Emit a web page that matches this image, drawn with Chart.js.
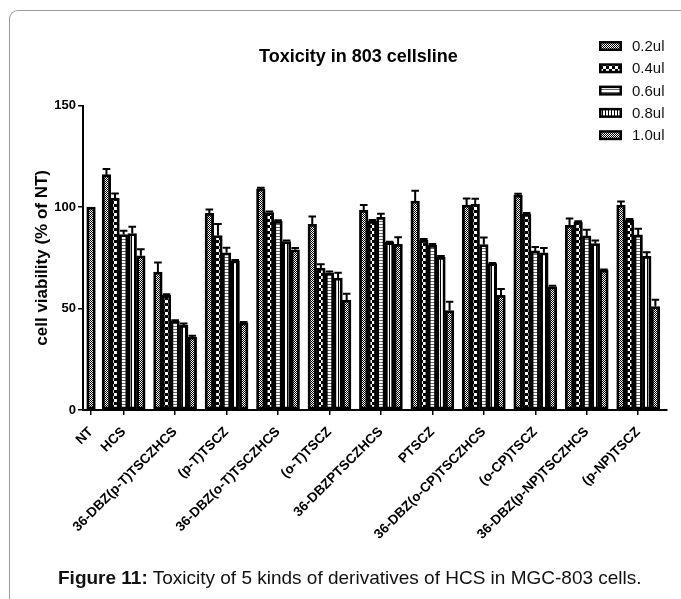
<!DOCTYPE html>
<html>
<head>
<meta charset="utf-8">
<script src="https://cdn.jsdelivr.net/npm/chart.js@4.4.0/dist/chart.umd.min.js"></script>
<style>
  html, body { margin: 0; padding: 0; background: #fff; }
  body { width: 681px; height: 599px; position: relative; overflow: hidden; font-family: "Liberation Sans", Arial, sans-serif; }
  #frame { position: absolute; left: 9px; top: 10px; width: 720px; height: 640px; border-left: 1.5px solid #9a9a9a; border-top: 1.5px solid #9a9a9a; border-top-left-radius: 9px; }
  #title { position: absolute; left: 0; width: 717px; top: 46px; text-align: center; font-size: 18px; font-weight: bold; color: #000; }
  #caption { position: absolute; left: 58px; top: 567px; font-size: 19px; color: #111; white-space: nowrap; }
  canvas { position: absolute; left: 0; top: 0; }
</style>
</head>
<body>
<div id="frame"></div>
<canvas id="chart" width="681" height="599"></canvas>
<div id="title">Toxicity in 803 cellsline</div>
<div id="caption"><b>Figure 11:</b> Toxicity of 5 kinds of derivatives of HCS in MGC-803 cells.</div>
<script>
const categories = ['NT', 'HCS', '36-DBZ(p-T)TSCZHCS', '(p-T)TSCZ', '36-DBZ(o-T)TSCZHCS', '(o-T)TSCZ',
  '36-DBZPTSCZHCS', 'PTSCZ', '36-DBZ(o-CP)TSCZHCS', '(o-CP)TSCZ', '36-DBZ(p-NP)TSCZHCS', '(p-NP)TSCZ'];
const doseLabels = ['0.2ul', '0.4ul', '0.6ul', '0.8ul', '1.0ul'];

// mean values, % of NT
const dose02 = [100, 116, 68, 97, 109, 91.5, 98.5, 103, 101, 106, 91, 101];
const dose04 = [null, 104.5, 56.5, 86, 97.3, 70, 93, 83.7, 101.5, 96.5, 92.5, 93.5];
const dose06 = [null, 86.5, 43.8, 77.5, 93, 67.6, 95, 81.2, 81.6, 78.4, 85.8, 86.3];
const dose08 = [null, 87, 41.8, 73.5, 83, 65, 82.6, 75.3, 72.2, 77.5, 82, 75.8];
const dose10 = [null, 76, 36, 43, 79, 54.2, 81.7, 49, 56.5, 60.7, 69, 51];

// error bars (upper only)
const err02 = [0, 2.8, 4.7, 1.8, 0.5, 3.9, 2.6, 5.1, 3.3, 0.6, 3.4, 1.8];
const err04 = [0, 2.2, 0.5, 5.7, 0.5, 1.9, 0.6, 0.6, 2.6, 0.6, 0.6, 0.6];
const err06 = [0, 1.8, 0.5, 2.5, 0.5, 0.7, 1.8, 0.6, 3.4, 2, 3.1, 3];
const err08 = [0, 3.3, 0.8, 0.4, 0.6, 2.6, 0.3, 0.6, 0.3, 2.3, 1.5, 2];
const err10 = [0, 3.3, 0.6, 0.4, 0.8, 3.1, 3.4, 4.4, 3.1, 0.6, 0.3, 3.4];

const yTicks = [0, 50, 100, 150];

// NT sits closer to HCS than the other groups (single bar)
const xPos = categories.map((c, i) => i === 0 ? 0.366 : i);

const FONT = '"Liberation Sans", Arial, sans-serif';

function makePattern(kind) {
  const c = document.createElement('canvas');
  const g = c.getContext('2d');
  if (kind === 0) { // fine checker
    c.width = 2; c.height = 2;
    g.fillStyle = '#fff'; g.fillRect(0, 0, 2, 2);
    g.fillStyle = '#000'; g.fillRect(0, 0, 1, 1); g.fillRect(1, 1, 1, 1);
  } else if (kind === 1) { // coarse checker
    c.width = 6; c.height = 6;
    g.fillStyle = '#fff'; g.fillRect(0, 0, 6, 6);
    g.fillStyle = '#000'; g.fillRect(0, 0, 3, 3); g.fillRect(3, 3, 3, 3);
  } else if (kind === 2) { // horizontal lines
    c.width = 1; c.height = 3;
    g.fillStyle = '#fff'; g.fillRect(0, 0, 1, 3);
    g.fillStyle = '#666'; g.fillRect(0, 2, 1, 1);
  } else if (kind === 3) { // vertical lines
    c.width = 3; c.height = 1;
    g.fillStyle = '#fff'; g.fillRect(0, 0, 3, 1);
    g.fillStyle = '#000'; g.fillRect(2, 0, 1, 1);
  } else { // diagonal hatch
    c.width = 4; c.height = 4;
    g.fillStyle = '#fff'; g.fillRect(0, 0, 4, 4);
    g.fillStyle = '#000';
    for (let i = 0; i < 4; i++) { g.fillRect(3 - i, i, 1, 1); g.fillRect((5 - i) % 4, i, 1, 1); }
  }
  return g.createPattern(c, 'repeat');
}

const seriesValues = [dose02, dose04, dose06, dose08, dose10];
const seriesErrors = [err02, err04, err06, err08, err10];
const patterns = [0, 1, 2, 3, 4].map(makePattern);

const datasets = seriesValues.map((vals, k) => ({
  label: doseLabels[k],
  data: vals.map((v, i) => ({ x: xPos[i], y: v })),
  errors: seriesErrors[k],
  backgroundColor: patterns[k],
  borderColor: '#000',
  borderWidth: 2.8,
  borderSkipped: false,
  barThickness: 8.6,
  skipNull: true
}));

const errorBars = {
  id: 'errorBars',
  afterDatasetsDraw(chart) {
    const ctx = chart.ctx;
    const y = chart.scales.y;
    ctx.save();
    ctx.strokeStyle = '#000';
    ctx.lineWidth = 2;
    chart.data.datasets.forEach((ds, di) => {
      chart.getDatasetMeta(di).data.forEach((bar, i) => {
        const v = ds.data[i].y;
        const e = ds.errors[i];
        if (v == null || !e) return;
        const top = y.getPixelForValue(v + e);
        const half = bar.width / 2 - 0.5;
        ctx.beginPath();
        ctx.moveTo(bar.x, bar.y);
        ctx.lineTo(bar.x, top);
        ctx.moveTo(bar.x - half, top);
        ctx.lineTo(bar.x + half, top);
        ctx.stroke();
      });
    });
    ctx.restore();
  }
};

const patternLegend = {
  id: 'patternLegend',
  afterDraw(chart) {
    const ctx = chart.ctx;
    ctx.save();
    chart.data.datasets.forEach((ds, k) => {
      const cy = 46 + k * 22.3;
      ctx.fillStyle = '#000';
      ctx.fillRect(599, cy - 5, 23, 10);
      ctx.fillStyle = ds.backgroundColor;
      ctx.fillRect(601.5, cy - 2.5, 18, 5);
      ctx.fillStyle = '#111';
      ctx.font = '15px ' + FONT;
      ctx.textBaseline = 'middle';
      ctx.fillText(ds.label, 632, cy + 1);
    });
    ctx.restore();
  }
};

new Chart(document.getElementById('chart'), {
  type: 'bar',
  data: { datasets },
  options: {
    responsive: false,
    animation: false,
    layout: { padding: { top: 105.7, right: 14, left: 0, bottom: 0 } },
    plugins: { legend: { display: false }, tooltip: { enabled: false } },
    scales: {
      x: {
        type: 'linear',
        min: 0.21,
        max: 11.56,
        offset: false,
        afterBuildTicks: (s) => { s.ticks = xPos.map(v => ({ value: v })); },
        afterFit: (s) => { s.height = 599 - 410; },
        ticks: {
          autoSkip: false, minRotation: 45, maxRotation: 45, padding: 9,
          color: '#000', font: { size: 13.5, weight: 'bold', family: FONT },
          callback: (v, i) => categories[i]
        },
        grid: { offset: false, drawOnChartArea: false, tickLength: 5, color: '#000', lineWidth: 1.5 },
        border: { color: '#000', width: 2 }
      },
      y: {
        min: 0,
        max: 150,
        afterBuildTicks: (s) => { s.ticks = yTicks.map(v => ({ value: v })); },
        afterFit: (s) => { s.width = 83; },
        ticks: { padding: 2, color: '#000', font: { size: 13, weight: 'bold', family: FONT } },
        grid: { drawOnChartArea: false, tickLength: 5, color: '#000', lineWidth: 1.5 },
        border: { color: '#000', width: 2 },
        title: {
          display: true, text: 'cell viability (% of NT)', color: '#000',
          font: { size: 17, weight: 'bold', family: FONT },
          padding: { top: 32, bottom: 0 }
        }
      }
    }
  },
  plugins: [errorBars, patternLegend]
});
</script>
</body>
</html>
